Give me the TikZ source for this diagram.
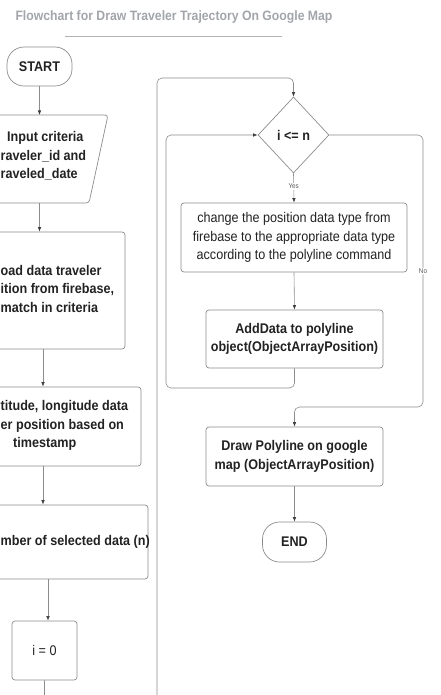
\documentclass[tikz,border=0pt]{standalone}
\usepackage{fontspec}
\setmainfont{Liberation Sans}[FakeStretch=0.9]
\usetikzlibrary{shapes.geometric,arrows.meta,calc}
\definecolor{linegrey}{HTML}{8C8C8C}
\definecolor{tipgrey}{HTML}{3C3C3C}
\definecolor{txt}{HTML}{222222}
\definecolor{titlegrey}{HTML}{A2A5AA}
\newcommand\lpad[1]{\makebox[#1]{}}
\begin{document}
\begin{tikzpicture}[x=1pt,y=-1pt,
  box/.style={draw=linegrey, line width=0.7pt, rounded corners=3pt, inner sep=0pt},
  term/.style={draw=linegrey, line width=0.7pt, rounded corners=17pt, inner sep=0pt,
    text=txt, font=\bfseries\fontsize{14}{18}\selectfont},
  btxt/.style={text=txt, font=\bfseries\fontsize{14}{18.5}\selectfont, inner sep=0pt},
  ntxt/.style={text=txt, font=\fontsize{14}{18.5}\selectfont, inner sep=0pt},
  cbox/.style={box, text=txt, align=center, font=\bfseries\fontsize{14}{18.5}\selectfont},
  arr/.style={draw=linegrey, line width=0.6pt, rounded corners=5pt,
    -{Latex[length=4.5pt,width=3.5pt,color=tipgrey]}},
  lab/.style={fill=white, inner sep=1pt, text=black!65, font=\fontsize{7}{8}\selectfont}]
\useasboundingbox (0,0) rectangle (440,695);
\clip (0,0) rectangle (440,695);

% title
\node[text=titlegrey, font=\bfseries\fontsize{13.6}{16}\selectfont, inner sep=0pt] (title) at (174,17)
  {Flowchart for Draw Traveler Trajectory On Google Map};
\coordinate (ruleL) at (65,36);
\coordinate (ruleR) at (282,36);
\draw[draw=black!30, line width=0.8pt] (ruleL) -- (ruleR);

% left column
\node[term, minimum width=65pt, minimum height=39pt] (start) at (39.5,66.5) {START};

\coordinate (inN) at (39.5,115);
\coordinate (inS) at (39.5,203);
\draw[draw=linegrey, line width=0.7pt, rounded corners=3pt]
  (-30,115) -- (108,115) -- (89,203) -- (-49,203) -- cycle;
\node[btxt, align=left, anchor=west] (input) at (0.5,156)
  {\lpad{6.5pt}Input criteria\\raveler\_id and\\raveled\_date};

\node[box, minimum width=164pt, minimum height=117pt] (load) at (43,290.5) {};
\node[btxt, align=left, anchor=west] (loadtxt) at (0.5,288.5)
  {oad data traveler\\ition from firebase,\\match in criteria};

\node[box, minimum width=196pt, minimum height=79pt] (lat) at (43,426.5) {};
\node[btxt, align=left, anchor=west] (lattxt) at (0.5,425.5)
  {titude, longitude data\\er position based on\\\lpad{12.5pt}timestamp};

\node[box, minimum width=200pt, minimum height=74pt] (num) at (48,542) {};
\node[btxt, anchor=west] (numtxt) at (0.5,542) {mber of selected data (n)};

\node[box, ntxt, minimum width=65pt, minimum height=59pt] (izero) at (44.5,650.5) {i = 0};

% right column
\node[diamond, draw=linegrey, line width=0.7pt, inner sep=0pt, minimum width=71pt, minimum height=76pt,
  text=txt, font=\bfseries\fontsize{14}{16}\selectfont] (dec) at (293.5,135) {i <= n};

\node[box, ntxt, align=center, minimum width=226pt, minimum height=69pt] (chg) at (294,237.5)
  {change the position data type from\\firebase to the appropriate data type\\according to the polyline command};

\node[cbox, minimum width=177pt, minimum height=58pt] (add) at (294.5,339)
  {AddData to polyline\\object(ObjectArrayPosition)};

\node[cbox, minimum width=177pt, minimum height=59pt] (drawpl) at (294.5,456.5)
  {Draw Polyline on google\\map (ObjectArrayPosition)};

\node[term, minimum width=64pt, minimum height=40pt] (endnode) at (294.5,542) {END};

% connectors
\draw[arr] (start.south) -- (inN);
\draw[arr] (inS) -- (inS |- load.north);
\draw[arr] (load.south) -- (lat.north);
\draw[arr] (lat.south) -- (lat.south |- num.north);
\draw[arr] (num.south) -- (num.south |- izero.north);
\draw[arr] (izero.south) -- (izero.south |- 0,720) -- (157,720) -- (157,78)
  -- (dec.north |- 0,78) -- (dec.north);
\draw[arr] (dec.south) -- node[lab, pos=0.45] (yes) {Yes} (chg.north);
\draw[arr] (chg.south) -- (add.north);
\draw[arr] (add.south) -- (add.south |- 0,388) -- (166,388) -- (166,135) -- (dec.west);
\draw[arr] (dec.east) -- (423,135) -- node[lab, pos=0.5] (no) {No} (423,407)
  -- (drawpl.north |- 0,407) -- (drawpl.north);
\draw[arr] (drawpl.south) -- (endnode.north);
\end{tikzpicture}
\end{document}
